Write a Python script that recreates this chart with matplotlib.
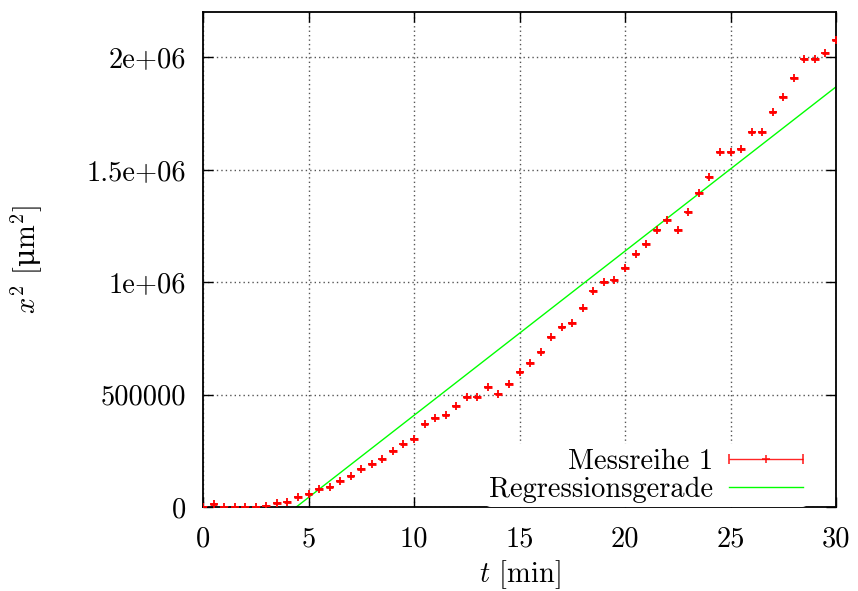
import numpy as np
import matplotlib
matplotlib.use("Agg")
import matplotlib.pyplot as plt
from matplotlib.container import ErrorbarContainer
from matplotlib.legend_handler import HandlerErrorbar

# Measurement: time in minutes, squared displacement in µm²
t_min = [0.0, 0.5, 1.0, 1.5, 2.0, 2.5, 3.0, 3.5, 4.0, 4.5,
         5.0, 5.5, 6.0, 6.5, 7.0, 7.5, 8.0, 8.5, 9.0, 9.5,
         10.0, 10.5, 11.0, 11.5, 12.0, 12.5, 13.0, 13.5, 14.0, 14.5,
         15.0, 15.5, 16.0, 16.5, 17.0, 17.5, 18.0, 18.5, 19.0, 19.5,
         20.0, 20.5, 21.0, 21.5, 22.0, 22.5, 23.0, 23.5, 24.0, 24.5,
         25.0, 25.5, 26.0, 26.5, 27.0, 27.5, 28.0, 28.5, 29.0, 29.5,
         30.0]
x2_um2 = [0, 12000, 2000, 0, 0, 2000, 6000, 19000, 21000, 46000,
          59000, 79000, 90000, 114000, 138000, 169000, 191000, 213000, 248000, 279000,
          301000, 370000, 394000, 409000, 448000, 490000, 490000, 532000, 504000, 547000,
          599000, 638000, 687000, 757000, 802000, 818000, 883000, 960000, 1000000, 1009000,
          1061000, 1124000, 1168000, 1231000, 1277000, 1231000, 1311000, 1394000, 1467000, 1576000,
          1576000, 1590000, 1665000, 1665000, 1757000, 1824000, 1905000, 1990000, 1990000, 2019000,
          2076000]
t_err = 0.18  # reading uncertainty of the time, minutes

# Linear fit f(t) = a*t + b
fit_a = 73000.0
fit_b = -322700.0

x_ticks = [0, 5, 10, 15, 20, 25, 30]
x_tick_labels = ["0", "5", "10", "15", "20", "25", "30"]
y_ticks = [0, 500000, 1000000, 1500000, 2000000]
y_tick_labels = ["0", "500000", "1e+06", "1.5e+06", "2e+06"]

plt.rcParams["font.family"] = ["cmr10", "DejaVu Serif"]
plt.rcParams["mathtext.fontset"] = "custom"
plt.rcParams["mathtext.rm"] = "cmr10"
plt.rcParams["mathtext.it"] = "cmmi10"
plt.rcParams["mathtext.bf"] = "cmb10"
plt.rcParams["mathtext.sf"] = "DejaVu Serif"
plt.rcParams["axes.formatter.use_mathtext"] = True
FS = 20.5
RED = "#ff0000"
GREEN = "#00ff00"

fig = plt.figure(figsize=(8.58, 5.91), dpi=100)
ax = fig.add_axes([203 / 858, 1 - 507 / 591, 633 / 858, 495 / 591])

ax.errorbar(t_min, x2_um2, xerr=t_err, fmt="+", color=RED,
            ms=5.2, mew=1.3, elinewidth=2.0, capsize=0,
            label="_nolegend_", zorder=3)

# legend key: error bar with end caps
key = ax.errorbar([np.nan], [np.nan], xerr=[1.0], fmt="+", color=RED,
                  ms=6, mew=1.2, elinewidth=1.0, capsize=3.5, capthick=1.0,
                  alpha=0.85, label="Messreihe 1")

t_line = np.linspace(0, 30, 200)
fit_line, = ax.plot(t_line, fit_a * t_line + fit_b, color=GREEN, lw=1.0,
                    label="Regressionsgerade", zorder=2)

ax.set_xlim(0, 30)
ax.set_ylim(0, 2.2e6)
ax.set_xticks(x_ticks)
ax.set_xticklabels(x_tick_labels)
ax.set_yticks(y_ticks)
ax.set_yticklabels(y_tick_labels)

ax.tick_params(direction="in", length=7, width=1.0, top=True, right=True,
               labelsize=FS, pad=12)
ax.tick_params(axis="x", pad=14)
for sp in ax.spines.values():
    sp.set_linewidth(1.3)

ax.grid(True, color="#555555", linestyle=(0, (1, 2.2)), linewidth=1.0)
ax.set_axisbelow(True)

ax.set_xlabel(r"$t$ [min]", fontsize=FS, labelpad=4)
ax.set_ylabel(r"$x^2$ [$\mathsf{\mu}$m$^2$]", fontsize=FS, labelpad=30)

leg = ax.legend(handles=[key, fit_line], loc="lower right", markerfirst=False,
                frameon=True, fontsize=FS, handlelength=2.6, handletextpad=0.55,
                labelspacing=0.05, borderpad=0.15, borderaxespad=0.0,
                bbox_to_anchor=(0.955, 0.0),
                handler_map={ErrorbarContainer: HandlerErrorbar(xerr_size=1.3)})
leg.get_frame().set_facecolor("white")
leg.get_frame().set_edgecolor("none")
leg.get_frame().set_alpha(1.0)
leg.set_zorder(5)

fig.savefig("out.png", dpi=100)
